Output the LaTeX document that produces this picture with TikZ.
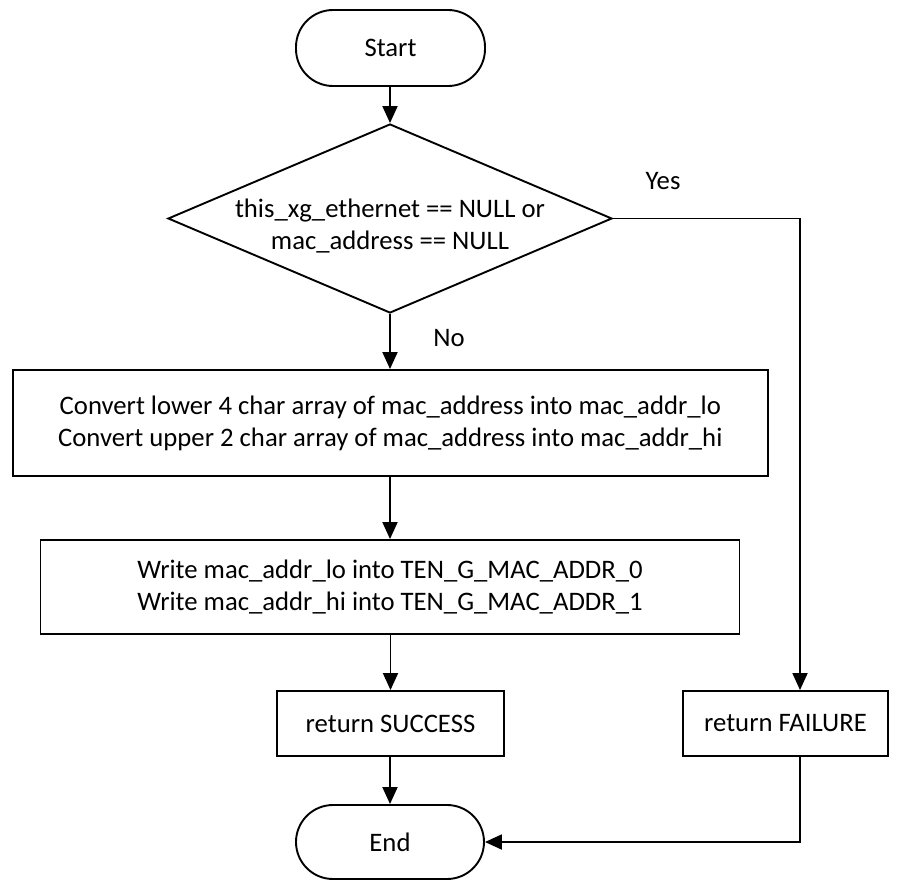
\documentclass[tikz,border=0pt]{standalone}
\usepackage{fontspec}
\setmainfont{Carlito}
\usetikzlibrary{arrows.meta,shapes.geometric}
\begin{document}
\begin{tikzpicture}[x=1pt,y=-1pt,
  every node/.style={font=\fontsize{26.7}{32}\selectfont},
  procbox/.style={draw, line width=1.9pt, rectangle, inner sep=0pt, align=center},
  terminal/.style={draw, line width=1.9pt, rectangle, rounded corners=37pt, inner sep=0pt},
  decision/.style={draw, line width=1.9pt, diamond, inner sep=0pt},
  flow/.style={line width=1.9pt, -{Triangle[length=17pt,width=15pt]}}]
\useasboundingbox (0,0) rectangle (899,880);

% shapes
\node[terminal, minimum width=189pt, minimum height=76pt] (start) at (390.5,48) {Start};
\node[decision, minimum width=444pt, minimum height=189pt] (dec) at (390,218.5) {};
\node[align=center, inner sep=0pt] (dectext) at (390,226) {this\_xg\_ethernet == NULL or\\mac\_address == NULL};
\node[procbox, minimum width=755pt, minimum height=106pt] (conv) at (390.3,423)
  {Convert lower 4 char array of mac\_address into mac\_addr\_lo\\Convert upper 2 char array of mac\_address into mac\_addr\_hi};
\node[procbox, minimum width=699pt, minimum height=94pt] (write) at (390,587)
  {Write mac\_addr\_lo into TEN\_G\_MAC\_ADDR\_0\\Write mac\_addr\_hi into TEN\_G\_MAC\_ADDR\_1};
\node[procbox, minimum width=227pt, minimum height=65pt] (succ) at (390.5,723.5) {return SUCCESS};
\node[procbox, minimum width=205pt, minimum height=65pt] (fail) at (785.5,723.5) {return FAILURE};
\node[terminal, minimum width=188pt, minimum height=74pt] (end) at (390,842) {End};

% branch labels
\node (yes) at (663,181) {Yes};
\node (no) at (449,338) {No};

% connectors
\coordinate (yescorner) at (800,218.5);
\draw[flow] (start.south -| dec.north) -- (dec.north);
\draw[flow] (dec.south) -- (dec.south |- conv.north);
\draw[flow] (conv.south -| write.north) -- (write.north);
\draw[flow] (write.south -| succ.north) -- (succ.north);
\draw[flow] (succ.south -| end.north) -- (end.north);
\draw[flow] (dec.east) -- (yescorner) -- (yescorner |- fail.north);
\draw[flow] (yescorner |- fail.south) |- (end.east);
\end{tikzpicture}
\end{document}
